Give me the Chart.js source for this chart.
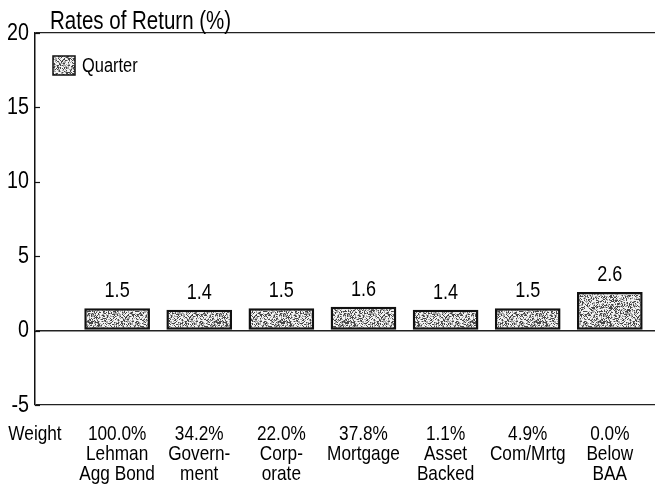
<!DOCTYPE html>
<html><head><meta charset="utf-8">
<script src="https://cdn.jsdelivr.net/npm/chart.js@4"></script>
<style>html,body{margin:0;padding:0;background:#fff}canvas{display:block}</style>
</head><body>
<canvas id="c" width="655" height="488"></canvas>
<script>
// ---- data ----
const categories = [['Lehman','Agg Bond'],['Govern-','ment'],['Corp-','orate'],['Mortgage'],['Asset','Backed'],['Com/Mrtg'],['Below','BAA']];
const weights = ['100.0%','34.2%','22.0%','37.8%','1.1%','4.9%','0.0%'];
const quarterReturns = [1.5, 1.4, 1.5, 1.6, 1.4, 1.5, 2.6];
const yTicks = [-5, 0, 5, 10, 15, 20];
const rowLabel = 'Weight';
const seriesName = 'Quarter';
const chartTitle = 'Rates of Return (%)';

const FONT = '"Liberation Sans", Arial, sans-serif';
const CONDENSE = 0.82; // narrow face look

function makePattern(){
  const p = document.createElement('canvas');
  p.width = 64; p.height = 64;
  const g = p.getContext('2d');
  const img = g.createImageData(64, 64);
  let s = 987654321;
  for (let i = 0; i < 64*64; i++){
    s = (s * 1103515245 + 12345) & 0x7fffffff;
    const r = s / 0x7fffffff;
    const v = r < 0.26 ? 70 : (r < 0.52 ? 165 : 242);
    img.data[i*4] = v; img.data[i*4+1] = v; img.data[i*4+2] = v; img.data[i*4+3] = 255;
  }
  g.putImageData(img, 0, 0);
  return g.createPattern(p, 'repeat');
}

const canvas = document.getElementById('c');
const ctx = canvas.getContext('2d');
// draw all text with a horizontally condensed face
const origFill = ctx.fillText.bind(ctx);
ctx.fillText = function(t, x, y){
  this.save();
  this.translate(x, y);
  this.scale(CONDENSE, 1);
  origFill(t, 0, 0);
  this.restore();
};
const pattern = makePattern();

const extras = {
  id: 'extras',
  afterDraw(chart){
    const c = chart.ctx;
    const ys = chart.scales.y;
    const area = chart.chartArea;
    c.save();
    // inward tick marks
    c.strokeStyle = '#111'; c.lineWidth = 1.2;
    yTicks.forEach(v => {
      const py = Math.round(ys.getPixelForValue(v)) + 0.5;
      c.beginPath(); c.moveTo(area.left, py); c.lineTo(area.left + 5, py); c.stroke();
    });
    // value labels
    c.fillStyle = '#000';
    c.font = '22px ' + FONT;
    c.textAlign = 'center'; c.textBaseline = 'alphabetic';
    const meta = chart.getDatasetMeta(0);
    meta.data.forEach((bar, i) => {
      c.fillText(quarterReturns[i].toFixed(1), bar.x, bar.y - 11);
    });
    // title
    c.font = '25px ' + FONT;
    c.textAlign = 'left';
    c.fillText(chartTitle, 50, 29);
    // legend
    c.fillStyle = pattern;
    c.fillRect(53, 56, 22, 19);
    c.strokeStyle = '#111'; c.lineWidth = 1.5;
    c.strokeRect(53, 56, 22, 19);
    c.fillStyle = '#000';
    c.font = '20px ' + FONT;
    c.textBaseline = 'middle';
    c.fillText(chart.data.datasets[0].label, 82, 66);
    c.restore();
  }
};

new Chart(ctx, {
  type: 'bar',
  data: {
    datasets: [{
      label: seriesName,
      data: quarterReturns.map((v, i) => ({x: i + 1, y: v})),
      backgroundColor: pattern,
      borderColor: '#111',
      borderWidth: 2.5,
      borderSkipped: false,
      categoryPercentage: 0.8,
      barPercentage: 1.0
    }]
  },
  options: {
    responsive: false,
    animation: false,
    devicePixelRatio: 1,
    layout: { padding: { top: 33, right: 0, left: 0, bottom: 0 } },
    plugins: { legend: { display: false }, tooltip: { enabled: false }, title: { display: false } },
    scales: {
      x: {
        type: 'linear',
        offset: false,
        min: 0, max: 7.55,
        grid: { display: false, offset: false },
        border: { display: false },
        afterBuildTicks(scale){ scale.ticks = [0,1,2,3,4,5,6,7].map(v => ({value: v})); },
        afterFit(scale){ scale.height = 83; scale.paddingLeft = 0; scale.paddingRight = 0; },
        ticks: {
          autoSkip: false, maxRotation: 0, minRotation: 0, padding: 11,
          color: '#000',
          font: { family: FONT, size: 21, lineHeight: '20px' },
          callback: (v) => v === 0 ? rowLabel : [weights[v-1], ...categories[v-1]]
        }
      },
      y: {
        min: -5, max: 20,
        afterBuildTicks(scale){ scale.ticks = yTicks.map(v => ({value: v})); },
        afterFit(scale){ scale.width = 35; },
        grid: {
          drawTicks: false,
          color: (c) => (c.tick && (c.tick.value === 0 || c.tick.value === 20 || c.tick.value === -5)) ? '#222' : 'rgba(0,0,0,0)',
          lineWidth: (c) => (c.tick && c.tick.value === 0) ? 1.5 : 1.3
        },
        border: { display: true, color: '#111', width: 1.5 },
        ticks: {
          padding: 6, color: '#000',
          font: { family: FONT, size: 24 },
          callback: (v) => String(v)
        }
      }
    }
  },
  plugins: [extras]
});
</script>
</body></html>
